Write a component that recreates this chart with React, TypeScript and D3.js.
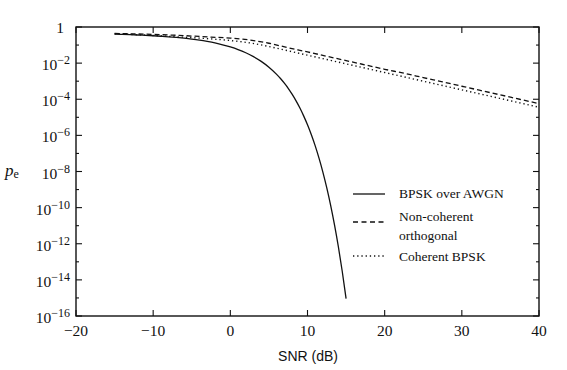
import React from 'react';
import * as d3 from 'd3';

// SNR axis in dB
const xTicks = [-20, -10, 0, 10, 20, 30, 40];
// decades labelled on the pe axis, and the unlabelled ones between them
const yMajorExps = [0, -2, -4, -6, -8, -10, -12, -14, -16];
const yMinorExps = [-1, -3, -5, -7, -9, -11, -13, -15];

// BPSK over AWGN
const awgnSnr = [-15, -14, -13, -12, -11, -10, -9, -8, -7, -6, -5, -4, -3, -2, -1, 0, 1, 2, 3, 4, 5, 6, 6.5, 7, 7.5, 8, 8.5, 9, 9.5, 10, 10.5, 11, 11.5, 12, 12.5, 13, 13.5, 14, 14.5, 15];
const awgnPe = [0.401, 0.389, 0.376, 0.361, 0.345, 0.327, 0.308, 0.287, 0.264, 0.239, 0.213, 0.186, 0.158, 0.131, 0.104, 0.0786, 0.0563, 0.0375, 0.0229, 0.0125, 5.95e-3, 2.39e-3, 1.4e-3, 7.73e-4, 4.04e-4, 1.91e-4, 8.4e-5, 3.36e-5, 1.2e-5, 3.87e-6, 1.08e-6, 2.61e-7, 5.3e-8, 9.01e-9, 1.23e-9, 1.33e-10, 1.1e-11, 6.81e-13, 3.0e-14, 9.12e-16];

// fading curves, sampled every 2.5 dB
const fadeSnr = [-15, -12.5, -10, -7.5, -5, -2.5, 0, 2.5, 5, 7.5, 10, 12.5, 15, 17.5, 20, 22.5, 25, 27.5, 30, 32.5, 35, 37.5, 40];
const nonCohPe = [0.437, 0.417, 0.389, 0.355, 0.316, 0.275, 0.245, 0.191, 0.126, 0.0708, 0.0417, 0.024, 0.0138, 7.94e-3, 4.57e-3, 2.75e-3, 1.58e-3, 9.12e-4, 5.25e-4, 3.02e-4, 1.74e-4, 1.0e-4, 5.75e-5];
const cohPe = [0.417, 0.38, 0.339, 0.295, 0.257, 0.219, 0.178, 0.132, 0.0832, 0.0479, 0.0275, 0.0158, 9.12e-3, 5.25e-3, 3.02e-3, 1.74e-3, 1.0e-3, 5.75e-4, 3.31e-4, 1.91e-4, 1.1e-4, 6.31e-5, 3.63e-5];

const legendItems = ['BPSK over AWGN', 'Non-coherent', 'Coherent BPSK'];

const serif = '"Liberation Serif", "DejaVu Serif", serif';
const sans = '"Liberation Sans", Arial, sans-serif';

export default function App() {
  const width = 567, height = 370;
  const left = 76, right = 539, top = 27, bottom = 316;

  const x = d3.scaleLinear().domain([-20, 40]).range([left, right]);
  const y = d3.scaleLog().domain([1e-16, 1]).range([bottom, top]);

  const line = d3.line<[number, number]>()
    .x(d => x(d[0]))
    .y(d => y(d[1]))
    .curve(d3.curveMonotoneX);

  const awgn = line(awgnSnr.map((s, i) => [s, awgnPe[i]] as [number, number])) || '';
  const nonCoh = line(fadeSnr.map((s, i) => [s, nonCohPe[i]] as [number, number])) || '';
  const coh = line(fadeSnr.map((s, i) => [s, cohPe[i]] as [number, number])) || '';

  const ink = '#111';

  return (
    <svg width={width} height={height} style={{ position: 'absolute', left: 0, top: 0, background: '#fff' }}>
      {/* frame */}
      <rect x={left} y={top} width={right - left} height={bottom - top} fill="none" stroke={ink} strokeWidth={1.4} />

      {/* x ticks, bottom and top, pointing inward */}
      {xTicks.map(t => (
        <g key={'x' + t}>
          <line x1={x(t)} x2={x(t)} y1={bottom} y2={bottom - 6} stroke={ink} strokeWidth={1.1} />
          <line x1={x(t)} x2={x(t)} y1={top} y2={top + 6} stroke={ink} strokeWidth={1.1} />
          <text x={x(t)} y={336} textAnchor="middle" fontFamily={serif} fontSize={15.5} fill={ink}>
            {t < 0 ? '\u2212' + Math.abs(t) : t}
          </text>
        </g>
      ))}

      {/* y ticks on both sides */}
      {yMajorExps.map(e => (
        <g key={'ym' + e}>
          <line x1={left} x2={left + 6} y1={y(Math.pow(10, e))} y2={y(Math.pow(10, e))} stroke={ink} strokeWidth={1.1} />
          <line x1={right} x2={right - 6} y1={y(Math.pow(10, e))} y2={y(Math.pow(10, e))} stroke={ink} strokeWidth={1.1} />
          {e === 0 ? (
            <text x={64} y={y(1) + 6} textAnchor="end" fontFamily={serif} fontSize={15.5} fill={ink}>1</text>
          ) : (
            <text x={70} y={y(Math.pow(10, e)) + 7} textAnchor="end" fontFamily={serif} fontSize={15.5} fill={ink}>
              10<tspan fontSize={12} dy={-6}>{'\u2212' + Math.abs(e)}</tspan>
            </text>
          )}
        </g>
      ))}
      {yMinorExps.map(e => (
        <g key={'yn' + e}>
          <line x1={left} x2={left + 3} y1={y(Math.pow(10, e))} y2={y(Math.pow(10, e))} stroke={ink} strokeWidth={1.1} />
          <line x1={right} x2={right - 3} y1={y(Math.pow(10, e))} y2={y(Math.pow(10, e))} stroke={ink} strokeWidth={1.1} />
        </g>
      ))}

      {/* curves */}
      <path d={nonCoh} fill="none" stroke={ink} strokeWidth={1.3} strokeDasharray="5,3" />
      <path d={coh} fill="none" stroke={ink} strokeWidth={1.4} strokeDasharray="1.3,2.9" />
      <path d={awgn} fill="none" stroke={ink} strokeWidth={1.3} />

      {/* axis titles */}
      <text x={308} y={361} textAnchor="middle" fontFamily={sans} fontSize={14} fill={ink}>SNR (dB)</text>
      <text x={5} y={176} fontFamily={serif} fontSize={17} fill={ink}>
        <tspan fontStyle="italic">p</tspan>
        <tspan fontSize={12} dy={2}>e</tspan>
      </text>

      {/* legend */}
      <g fontFamily={serif} fontSize={13.5} fill={ink}>
        <line x1={353} x2={385} y1={194} y2={194} stroke={ink} strokeWidth={1.3} />
        <text x={399} y={198}>{legendItems[0]}</text>
        <line x1={353} x2={385} y1={222} y2={222} stroke={ink} strokeWidth={1.3} strokeDasharray="5,3.5" />
        <text x={399} y={221}>{legendItems[1]}</text>
        <text x={399} y={240}>orthogonal</text>
        <line x1={353} x2={385} y1={256} y2={256} stroke={ink} strokeWidth={1.4} strokeDasharray="1.3,2.9" />
        <text x={399} y={261}>{legendItems[2]}</text>
      </g>
    </svg>
  );
}
